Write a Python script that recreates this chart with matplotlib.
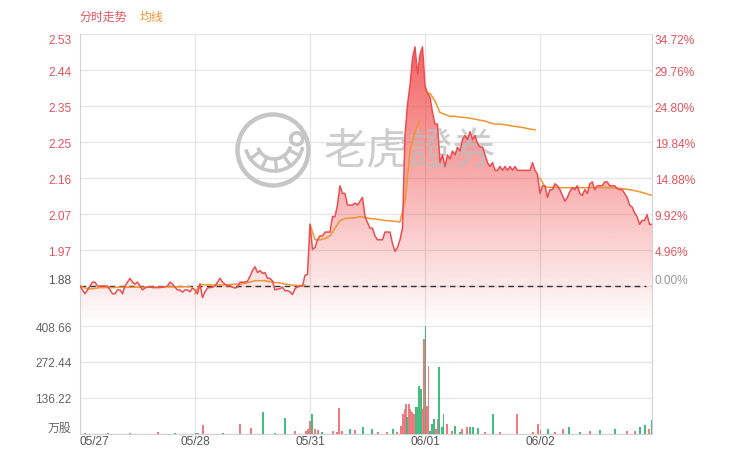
import numpy as np
import matplotlib
matplotlib.use('Agg')
import matplotlib.pyplot as plt
from matplotlib.patches import Circle, Arc

# ---------------- data ----------------
prev_close = 1.88
days = ['05/27', '05/28', '05/31', '06/01', '06/02']
last_day_span = 0.974

price_d1 = [1.88, 1.87, 1.86, 1.87, 1.88, 1.89, 1.89, 1.88, 1.88, 1.88, 1.88, 1.88, 1.87, 1.86, 1.86, 1.87,
            1.87, 1.86, 1.88, 1.89, 1.90, 1.89, 1.885, 1.89, 1.88, 1.87, 1.875, 1.877, 1.878, 1.876, 1.876,
            1.876, 1.876, 1.877, 1.878, 1.88, 1.89, 1.885, 1.877, 1.87, 1.87, 1.864, 1.87, 1.87, 1.865, 1.875]
price_d2 = [1.87, 1.86, 1.885, 1.85, 1.865, 1.875, 1.876, 1.877, 1.88, 1.89, 1.90, 1.89, 1.885, 1.88, 1.881,
            1.877, 1.875, 1.877, 1.89, 1.89, 1.89, 1.893, 1.905, 1.92, 1.93, 1.915, 1.92, 1.913, 1.915, 1.90,
            1.90, 1.893, 1.87, 1.872, 1.873, 1.877, 1.868, 1.868, 1.865, 1.858, 1.873, 1.878, 1.88, 1.88,
            1.908, 1.91]
price_d3 = [2.04, 1.975, 1.98, 2.00, 2.01, 2.01, 2.02, 2.02, 2.02, 2.06, 2.06, 2.09, 2.14, 2.12, 2.12, 2.09,
            2.09, 2.09, 2.095, 2.09, 2.10, 2.11, 2.06, 2.045, 2.03, 2.03, 2.01, 2.00, 2.00, 2.00, 2.02, 2.02,
            2.02, 1.99, 1.97, 1.98, 2.00, 2.03, 2.27, 2.35, 2.40, 2.47, 2.50, 2.43, 2.48, 2.50]
price_d4 = [2.40, 2.38, 2.37, 2.33, 2.30, 2.30, 2.20, 2.22, 2.19, 2.22, 2.21, 2.23, 2.22, 2.24, 2.23, 2.26,
            2.27, 2.26, 2.28, 2.26, 2.27, 2.25, 2.24, 2.24, 2.22, 2.20, 2.19, 2.20, 2.18, 2.18, 2.19, 2.18,
            2.19, 2.18, 2.19, 2.18, 2.19, 2.18, 2.18, 2.18, 2.18, 2.18, 2.18, 2.20, 2.18, 2.17]
price_d5 = [2.12, 2.14, 2.14, 2.11, 2.13, 2.13, 2.145, 2.14, 2.13, 2.115, 2.10, 2.11, 2.125, 2.135, 2.13,
            2.14, 2.12, 2.115, 2.13, 2.12, 2.145, 2.15, 2.13, 2.14, 2.14, 2.14, 2.15, 2.15, 2.14, 2.14, 2.14,
            2.133, 2.13, 2.13, 2.12, 2.11, 2.09, 2.085, 2.07, 2.06, 2.04, 2.05, 2.05, 2.065, 2.04, 2.04]

avg_d1 = [1.88, 1.875, 1.872, 1.874, 1.876, 1.876, 1.876, 1.876, 1.877, 1.877, 1.877, 1.877, 1.877, 1.877,
          1.877, 1.877, 1.877, 1.878, 1.878, 1.878, 1.878, 1.878, 1.878]
avg_d2 = [1.86, 1.885, 1.883, 1.883, 1.883, 1.883, 1.883, 1.884, 1.885, 1.885, 1.887, 1.89, 1.894, 1.894,
          1.894, 1.891, 1.889, 1.888, 1.885, 1.883, 1.882, 1.881, 1.882]
avg_d3 = [2.04, 2.00, 2.00, 2.003, 2.01, 2.03, 2.05, 2.055, 2.056, 2.057, 2.06, 2.058, 2.055, 2.054, 2.052,
          2.05, 2.049, 2.048, 2.046, 2.10, 2.23, 2.28, 2.31]
avg_d4 = [2.38, 2.38, 2.36, 2.33, 2.325, 2.32, 2.32, 2.318, 2.317, 2.315, 2.313, 2.31, 2.308, 2.303, 2.30,
          2.30, 2.298, 2.296, 2.294, 2.292, 2.29, 2.287, 2.285]
avg_d5 = [2.16, 2.137, 2.136, 2.136, 2.135, 2.135, 2.135, 2.135, 2.135, 2.135, 2.135, 2.135, 2.135, 2.135,
          2.135, 2.134, 2.133, 2.131, 2.129, 2.126, 2.123, 2.119, 2.115]

# volume (万股): time in trading days, value, up(1)/down(0)
vol_t = [0.043, 0.243, 0.435, 0.678, 0.826,
         1.009, 1.026, 1.070, 1.243, 1.391, 1.487, 1.591, 1.696, 1.783, 1.870, 1.965, 1.983,
         2.000, 2.017, 2.043, 2.070, 2.104, 2.200, 2.235, 2.252, 2.278, 2.348, 2.391, 2.461, 2.539,
         2.591, 2.670, 2.722, 2.757, 2.791, 2.809, 2.822, 2.835, 2.843, 2.861, 2.874, 2.887, 2.904,
         2.922, 2.935, 2.948, 2.965, 2.978, 2.987, 2.993,
         3.004, 3.017, 3.030, 3.043, 3.061, 3.078, 3.096, 3.109, 3.122, 3.148, 3.161, 3.191, 3.235,
         3.261, 3.304, 3.322, 3.365, 3.391, 3.417, 3.461, 3.522, 3.591, 3.652, 3.800, 3.939, 3.983,
         4.004, 4.070, 4.130, 4.200, 4.252, 4.348, 4.435, 4.522, 4.652, 4.757, 4.826, 4.870, 4.913,
         4.948, 4.968]
vol_v = [3.8, 3.8, 3.8, 7.6, 3.8,
         3.8, 3.8, 34, 3.8, 38, 23, 83, 3.8, 61, 11, 11, 19,
         49, 76, 19, 15, 8, 11, 8, 98, 11, 19, 15, 26, 19,
         8, 8, 19, 8, 30, 76, 95, 114, 64, 114, 95, 83, 76,
         102, 102, 182, 170, 95, 106, 359,
         408.66, 106, 258, 11, 38, 57, 19, 57, 254, 26, 76, 38, 11,
         30, 8, 19, 26, 26, 26, 23, 8, 76, 8, 76, 8, 38,
         15, 19, 8, 19, 26, 8, 11, 15, 19, 11, 11, 26, 34,
         19, 53]
vol_up = [1, 0, 1, 1, 0,
          0, 1, 1, 0, 1, 1, 0, 0, 0, 1, 1, 1,
          1, 0, 1, 1, 0, 1, 1, 1, 1, 0, 1, 0, 0,
          1, 1, 0, 1, 1, 1, 1, 1, 0, 1, 1, 1, 1,
          0, 0, 0, 0, 1, 1, 1,
          0, 1, 1, 0, 0, 0, 1, 1, 0, 0, 0, 1, 1,
          0, 0, 1, 1, 0, 0, 0, 1, 0, 1, 1, 1, 1,
          1, 0, 1, 1, 0, 0, 1, 0, 0, 1, 1, 0, 0,
          1, 0]

# ---------------- assemble ----------------
def day_x(series_list):
    xs = []
    for d, s in enumerate(series_list):
        n = len(s)
        if d < len(series_list) - 1:
            xs.append(d + np.arange(n) / n)
        else:
            xs.append(d + np.linspace(0, last_day_span, n))
    return xs

p_list = [price_d1, price_d2, price_d3, price_d4, price_d5]
a_list = [avg_d1, avg_d2, avg_d3, avg_d4, avg_d5]
px = np.concatenate(day_x(p_list))
py = np.concatenate(p_list)
avg_xs = day_x(a_list)

RED = '#ee4c50'
LBL_RED = '#e5535c'
ORANGE = '#f39430'
GRID = '#e6e6e6'
SPINE = '#d2d2d2'
GRAY = '#666666'
LOGO = '#c6c6c6'

W, H = 735, 456
fig = plt.figure(figsize=(W / 100, H / 100), dpi=100)
plt.rcParams['font.family'] = ['Liberation Sans', 'Noto Sans CJK SC', 'DejaVu Sans']

step = 0.0496
tick_prices = [prev_close * (1 + k * step) for k in range(8)]
ytop = tick_prices[-1] + 0.0008
ybot = prev_close - 33 * prev_close * step / 36
xmax = 4 + last_day_span

L, R = 80 / W, 652 / W
ax = fig.add_axes([L, (H - 320) / H, R - L, (320 - 35) / H])
axv = fig.add_axes([L, (H - 435) / H, R - L, (435 - 320) / H])

# price panel
ax.set_axisbelow(True)
ax.set_xlim(0, xmax)
ax.set_ylim(ybot, ytop)
ax.set_yticks(tick_prices)
ax.set_yticklabels([f'{p:.2f}' for p in tick_prices])
ax.set_xticks([1, 2, 3, 4])
ax.set_xticklabels([])
ax.grid(True, color=GRID, lw=1)
ax.tick_params(axis='both', length=0)
ax.tick_params(axis='y', pad=6, labelsize=8.6)
for s in ['top', 'bottom']:
    ax.spines[s].set_visible(False)
for s in ['left', 'right']:
    ax.spines[s].set_color(SPINE)
ylabels = ax.get_yticklabels()
for i, lab in enumerate(ylabels):
    lab.set_color(LBL_RED if i > 0 else '#555555')
ylabels[-1].set_va('top')
ylabels[0].set_va('bottom')

ax2 = ax.twinx()
ax2.set_ylim(ybot, ytop)
ax2.set_yticks(tick_prices)
ax2.set_yticklabels([f'{k * step * 100:.2f}%' for k in range(8)])
ax2.tick_params(axis='y', length=0, pad=2, labelsize=8.6)
for s in ax2.spines.values():
    s.set_visible(False)
rl = ax2.get_yticklabels()
for i, lab in enumerate(rl):
    lab.set_color(LBL_RED if i > 0 else '#999999')
rl[-1].set_va('top')
rl[0].set_va('bottom')

# gradient fill under price
poly = ax.fill_between(px, py, ybot, facecolor='none', edgecolor='none')
grad = np.zeros((256, 1, 4))
alpha = np.linspace(0.84, 0.02, 256)
grad[:, 0, 0] = 240 / 255
grad[:, 0, 1] = 62 / 255
grad[:, 0, 2] = 62 / 255
grad[:, 0, 3] = alpha
im = ax.imshow(grad, extent=[0, xmax, ybot, ytop], aspect='auto', zorder=1, interpolation='bilinear')
im.set_clip_path(poly.get_paths()[0], transform=ax.transData)

# watermark text
ax.text(410 / W, (H - 152) / H, '老虎證券', transform=fig.transFigure, ha='center', va='center',
        fontsize=31, color='#bdbdbd', alpha=0.75, family=['Noto Sans CJK SC'], zorder=2)

ax.axhline(prev_close, xmin=0, xmax=0.99, color='#333333', lw=1, ls=(0, (4, 3)), zorder=3)
for xs, ys in zip(avg_xs, a_list):
    ax.plot(xs, ys, color=ORANGE, lw=1.1, zorder=4)
ax.plot(px, py, color=RED, lw=1.1, zorder=5)

# logo
lax = fig.add_axes([(273 - 40) / W, (H - 151 - 40) / H, 80 / W, 80 / H])
lax.set_xlim(-40, 40)
lax.set_ylim(-40, 40)
lax.set_aspect('equal')
lax.axis('off')
lax.patch.set_alpha(0)
lax.add_patch(Circle((0, 0), 35.5, fill=False, ec=LOGO, lw=3.2))
cx, cy = 1, 8
r_in, r_out = 17, 29
lax.add_patch(Arc((cx, cy), 2 * r_out, 2 * r_out, theta1=195, theta2=350, ec=LOGO, lw=2.6))
lax.add_patch(Arc((cx, cy), 2 * r_in, 2 * r_in, theta1=200, theta2=345, ec=LOGO, lw=2.6))
for ang in [215, 245, 275, 305, 332]:
    t = np.deg2rad(ang)
    lax.plot([cx + r_in * np.cos(t), cx + r_out * np.cos(t)],
             [cy + r_in * np.sin(t), cy + r_out * np.sin(t)], color=LOGO, lw=2.4)
lax.add_patch(Circle((cx + 23 * np.cos(np.deg2rad(8)), cy + 23 * np.sin(np.deg2rad(8))), 6,
                     fill=False, ec=LOGO, lw=2.6))

# volume panel
vt = np.array(vol_t)
vv = np.array(vol_v)
vu = np.array(vol_up).astype(bool)
axv.set_axisbelow(True)
axv.set_xlim(0, xmax)
axv.set_ylim(0, 408.66 + 7 * 136.22 / 36)
axv.bar(vt[vu], vv[vu], width=0.012, color='#f06c72', zorder=3, alpha=0.9)
axv.bar(vt[~vu], vv[~vu], width=0.012, color='#2fb574', zorder=3, alpha=0.9)
vticks = [0, 136.22, 272.44, 408.66]
axv.set_yticks(vticks)
axv.set_yticklabels(['万股', '136.22', '272.44', '408.66'])
vl = axv.get_yticklabels()
vl[0].set_va('bottom')
for lab in vl:
    lab.set_color(GRAY)
axv.set_xticks([0, 1, 2, 3, 4])
axv.set_xticklabels(days)
axv.get_xticklabels()[0].set_ha('left')
for lab in axv.get_xticklabels():
    lab.set_color('#555555')
axv.tick_params(axis='both', length=0, labelsize=8.6)
axv.tick_params(axis='y', pad=6)
axv.tick_params(axis='x', pad=1)
axv.grid(True, color=GRID, lw=1)
axv.spines['top'].set_visible(False)
for s in ['left', 'right', 'bottom']:
    axv.spines[s].set_color(SPINE)

# legend / title text
fig.text(80 / W, (H - 17) / H, '分时走势', color=LBL_RED, fontsize=8.6, va='center', ha='left',
         family=['Noto Sans CJK SC'])
fig.text(140 / W, (H - 17) / H, '均线', color=ORANGE, fontsize=8.6, va='center', ha='left',
         family=['Noto Sans CJK SC'])

fig.savefig('out.png', dpi=100, facecolor='white')
